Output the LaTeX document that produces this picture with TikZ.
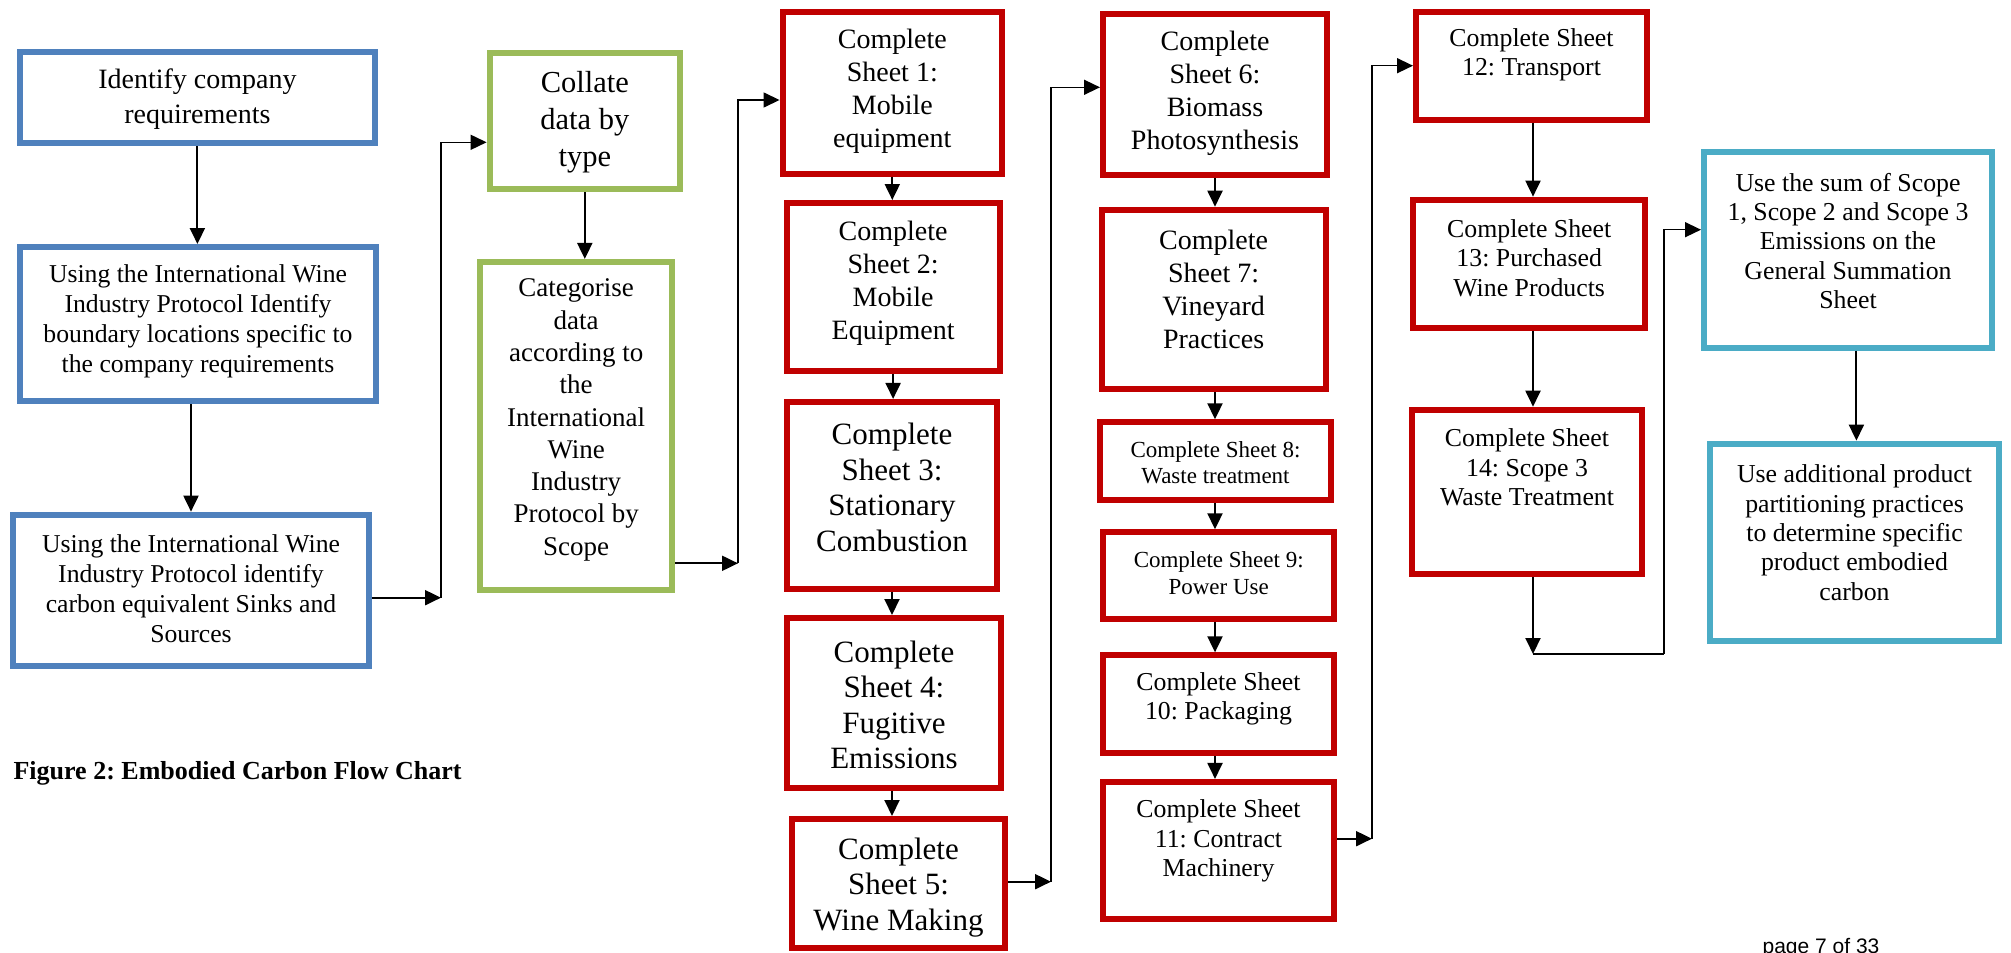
\documentclass[tikz,border=0pt]{standalone}
\usepackage{fontspec}
\setmainfont{Liberation Serif}
\newfontfamily\pagefont{Liberation Sans}
\usetikzlibrary{arrows.meta}
\definecolor{cblue}{HTML}{4F81BD}
\definecolor{cgreen}{HTML}{9BBB59}
\definecolor{cred}{HTML}{C00000}
\definecolor{ccyan}{HTML}{4BACC6}
\frenchspacing
\begin{document}
\begin{tikzpicture}[x=1pt,y=-1pt,
  boxbase/.style={rectangle, line width=6pt, inner sep=0pt, fill=white},
  bluebox/.style={boxbase, draw=cblue},
  greenbox/.style={boxbase, draw=cgreen},
  redbox/.style={boxbase, draw=cred},
  cyanbox/.style={boxbase, draw=ccyan},
  txt/.style={align=center, inner sep=0pt},
  fA/.style={txt, font=\fontsize{28pt}{35pt}\selectfont},
  fB/.style={txt, font=\fontsize{25.7pt}{30pt}\selectfont},
  fC/.style={txt, font=\fontsize{30.5pt}{37pt}\selectfont},
  fD/.style={txt, font=\fontsize{27pt}{32.3pt}\selectfont},
  fE/.style={txt, font=\fontsize{28pt}{33pt}\selectfont},
  fF/.style={txt, font=\fontsize{31pt}{35.5pt}\selectfont},
  fG/.style={txt, font=\fontsize{23pt}{26.5pt}\selectfont},
  fH/.style={txt, font=\fontsize{25.8pt}{29.3pt}\selectfont},
  arr/.style={draw=black, line width=2pt, -{Triangle[length=16pt,width=15pt]}},
  arrl/.style={draw=black, line width=1.5pt, -{Triangle[length=16pt,width=15pt]}},
  plain/.style={draw=black, line width=1.5pt}
]
\useasboundingbox (0,0) rectangle (2011,953);

% ---- boxes ----
\node[bluebox, minimum width=355.3pt, minimum height=91pt] (b1) at (197.4,97.5) {};
\node[bluebox, minimum width=356pt, minimum height=154pt] (b2) at (198,324) {};
\node[bluebox, minimum width=356pt, minimum height=151.3pt] (b3) at (191,590.3) {};
\node[greenbox, minimum width=190.4pt, minimum height=136pt] (col) at (584.8,121) {};
\node[greenbox, minimum width=192.4pt, minimum height=327.7pt] (cat) at (576.2,425.8) {};
\node[redbox, minimum width=219.5pt, minimum height=161.7pt] (s1) at (892.3,92.8) {};
\node[redbox, minimum width=213.2pt, minimum height=168pt] (s2) at (893.1,287) {};
\node[redbox, minimum width=210pt, minimum height=186.7pt] (s3) at (892,495.3) {};
\node[redbox, minimum width=214pt, minimum height=170pt] (s4) at (894,703) {};
\node[redbox, minimum width=213pt, minimum height=129pt] (s5) at (898.5,883.5) {};
\node[redbox, minimum width=224pt, minimum height=161.6pt] (s6) at (1215,94.5) {};
\node[redbox, minimum width=223.9pt, minimum height=179.6pt] (s7) at (1213.6,299.5) {};
\node[redbox, minimum width=231pt, minimum height=78pt] (s8) at (1215.5,461.3) {};
\node[redbox, minimum width=230.6pt, minimum height=86.4pt] (s9) at (1218.7,575.5) {};
\node[redbox, minimum width=231pt, minimum height=97.7pt] (s10) at (1218.5,704.2) {};
\node[redbox, minimum width=231pt, minimum height=136.7pt] (s11) at (1218.5,850.3) {};
\node[redbox, minimum width=231pt, minimum height=107.7pt] (s12) at (1531.5,65.8) {};
\node[redbox, minimum width=231.5pt, minimum height=128.3pt] (s13) at (1529.2,263.8) {};
\node[redbox, minimum width=230.9pt, minimum height=164.6pt] (s14) at (1527,492) {};
\node[cyanbox, minimum width=288pt, minimum height=195.4pt] (sum) at (1848,250) {};
\node[cyanbox, minimum width=289pt, minimum height=197.3pt] (fin) at (1854.5,542.3) {};

% ---- texts ----
\node[fA] (b1t) at (197.4,99) {Identify company\\requirements};
\node[fB] (b2t) at (198,321) {Using the International Wine\\Industry Protocol Identify\\boundary locations specific to\\the company requirements};
\node[fB] (b3t) at (191,588.3) {Using the International Wine\\Industry Protocol identify\\carbon equivalent Sinks and\\Sources};
\node[fC] (colt) at (584.8,122) {Collate\\data by\\type};
\node[fD] (catt) at (576.2,420) {Categorise\\data\\according to\\the\\International\\Wine\\Industry\\Protocol by\\Scope};
\node[fE] (s1t) at (892.3,91.7) {Complete\\Sheet 1:\\Mobile\\equipment};
\node[fE] (s2t) at (893.1,283.3) {Complete\\Sheet 2:\\Mobile\\Equipment};
\node[fF] (s3t) at (892,487.5) {Complete\\Sheet 3:\\Stationary\\Combustion};
\node[fF] (s4t) at (894,704.7) {Complete\\Sheet 4:\\Fugitive\\Emissions};
\node[fF] (s5t) at (898.5,887.5) {Complete\\Sheet 5:\\Wine Making};
\node[fE] (s6t) at (1215,93.3) {Complete\\Sheet 6:\\Biomass\\Photosynthesis};
\node[fE] (s7t) at (1213.6,289.7) {Complete\\Sheet 7:\\Vineyard\\Practices};
\node[fG] (s8t) at (1215.5,462.5) {Complete Sheet 8:\\Waste treatment};
\node[fG] (s9t) at (1218.7,573.3) {Complete Sheet 9:\\Power Use};
\node[fH] (s10t) at (1218.5,698.7) {Complete Sheet\\10: Packaging};
\node[fH] (s11t) at (1218.5,841) {Complete Sheet\\11: Contract\\Machinery};
\node[fH] (s12t) at (1531.5,54.7) {Complete Sheet\\12: Transport};
\node[fH] (s13t) at (1529.2,258) {Complete Sheet\\13: Purchased\\Wine Products};
\node[fH] (s14t) at (1527,467.5) {Complete Sheet\\14: Scope 3\\Waste Treatment};
\node[fH] (sumt) at (1848,240.8) {Use the sum of Scope\\1, Scope 2 and Scope 3\\Emissions on the\\General Summation\\Sheet};
\node[fH] (fint) at (1854.5,532.7) {Use additional product\\partitioning practices\\to determine specific\\product embodied\\carbon};

\node[inner sep=0pt, anchor=base west, font=\fontsize{26pt}{30pt}\selectfont\bfseries] (cap) at (13.4,779) {Figure 2: Embodied Carbon Flow Chart};
\node[inner sep=0pt, anchor=base, font=\fontsize{21pt}{24pt}\pagefont] (pg) at (1821,953) {page 7 of 33};

% ---- bend points ----
\coordinate (jA) at (441,597.7);
\coordinate (jB) at (441,142.3);
\coordinate (jC) at (738,563.3);
\coordinate (jD) at (738,100);
\coordinate (jE) at (1051,881.7);
\coordinate (jF) at (1051,87.3);
\coordinate (jG) at (1372,838.7);
\coordinate (jH) at (1372,65.7);
\coordinate (jI) at (1533,654);
\coordinate (jJ) at (1664,654);
\coordinate (jK) at (1664,229.7);

% ---- connectors ----
\draw[arr] (b1.south) -- (b1.south |- b2.north);
\draw[arr] (b2.south -| b3.north) -- (b3.north);
\draw[arr] (b3.east |- jA) -- (jA);
\draw[arrl] (jA) -- (jB) -- (col.west |- jB);
\draw[arr] (col.south) -- (col.south |- cat.north);
\draw[arr] (cat.east |- jC) -- (jC);
\draw[arrl] (jC) -- (jD) -- (s1.west |- jD);
\draw[arr] (s1.south) -- (s1.south |- s2.north);
\draw[arr] (s2.south) -- (s2.south |- s3.north);
\draw[arr] (s3.south) -- (s3.south |- s4.north);
\draw[arr] (s4.south -| s3.south) -- (s3.south |- s5.north);
\draw[arr] (s5.east |- jE) -- (jE);
\draw[arrl] (jE) -- (jF) -- (s6.west |- jF);
\draw[arr] (s6.south) -- (s6.south |- s7.north);
\draw[arr] (s7.south -| s6.south) -- (s6.south |- s8.north);
\draw[arr] (s8.south -| s6.south) -- (s6.south |- s9.north);
\draw[arr] (s9.south -| s6.south) -- (s6.south |- s10.north);
\draw[arr] (s10.south -| s6.south) -- (s6.south |- s11.north);
\draw[arr] (s11.east |- jG) -- (jG);
\draw[arrl] (jG) -- (jH) -- (s12.west |- jH);
\draw[arr] (s12.south -| jI) -- (jI |- s13.north);
\draw[arr] (s13.south -| jI) -- (jI |- s14.north);
\draw[arr] (s14.south -| jI) -- (jI);
\draw[plain] (jI) -- (jJ);
\draw[arrl] (jJ) -- (jK) -- (sum.west |- jK);
\draw[arr] (sum.south -| 1856.4,0) -- (fin.north -| 1856.4,0);
\end{tikzpicture}
\end{document}
